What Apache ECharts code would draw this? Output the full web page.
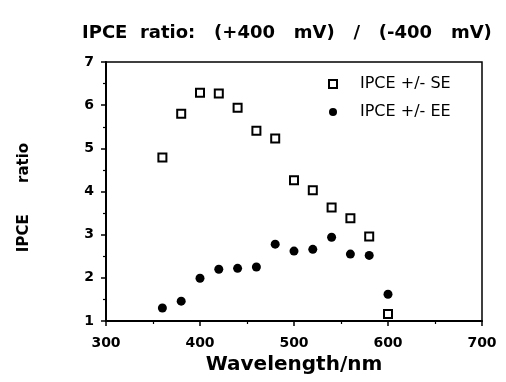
<!DOCTYPE html>
<html>
<head>
<meta charset="utf-8">
<script src="https://cdn.jsdelivr.net/npm/echarts@6/dist/echarts.min.js"></script>
<style>html,body{margin:0;padding:0;background:#fff;}#chart{width:506px;height:382px;}</style>
</head>
<body>
<div id="chart"></div>
<script>
var wavelengths = [360, 380, 400, 420, 440, 460, 480, 500, 520, 540, 560, 580, 600];
var ratioSE = [4.79, 5.80, 6.29, 6.27, 5.94, 5.41, 5.23, 4.26, 4.03, 3.63, 3.38, 2.96, 1.16];
var ratioEE = [1.30, 1.46, 1.99, 2.20, 2.22, 2.25, 2.78, 2.62, 2.66, 2.94, 2.55, 2.52, 1.62];
var seriesNames = ['IPCE +/- SE', 'IPCE +/- EE'];
var titleText = 'IPCE  ratio:   (+400   mV)   /   (-400   mV)';
var xName = 'Wavelength/nm';
var yName = 'IPCE      ratio';

function pairs(xs, ys) { return xs.map(function (x, i) { return [x, ys[i]]; }); }

var chart = echarts.init(document.getElementById('chart'), null, {renderer: 'canvas'});
var bold = {fontFamily: 'DejaVu Sans', fontWeight: 'bold', color: '#000'};
chart.setOption({
  animation: false,
  backgroundColor: '#fff',
  title: {
    text: titleText, left: 77, top: 19,
    textStyle: {fontFamily: 'DejaVu Sans', fontWeight: 'bold', fontSize: 18, color: '#000'}
  },
  grid: {left: 106, right: 24, top: 62, bottom: 61, show: true, borderColor: '#000', borderWidth: 1.5, backgroundColor: 'transparent'},
  legend: {
    orient: 'vertical', left: 323, top: 71, itemGap: 12, itemWidth: 8, itemHeight: 8,
    data: [{name: seriesNames[0], icon: 'rect'}, {name: seriesNames[1], icon: 'circle'}],
    textStyle: {fontFamily: 'DejaVu Sans', fontSize: 16, color: '#000', padding: [0, 0, 0, 18]}
  },
  xAxis: {
    type: 'value', min: 300, max: 700, interval: 100,
    name: xName, nameLocation: 'middle', nameGap: 33,
    nameTextStyle: Object.assign({fontSize: 20}, bold),
    axisLine: {show: true, lineStyle: {color: '#000', width: 2}},
    axisTick: {show: true, length: 5, lineStyle: {color: '#000', width: 1.5}},
    minorTick: {show: true, splitNumber: 2, length: 3, lineStyle: {color: '#000', width: 1.2}},
    splitLine: {show: false},
    axisLabel: Object.assign({fontSize: 14, margin: 15}, bold)
  },
  yAxis: {
    type: 'value', min: 1, max: 7, interval: 1,
    name: yName, nameLocation: 'middle', nameGap: 74, nameRotate: 90,
    nameTextStyle: Object.assign({fontSize: 15, padding: [0, 12, 0, 0]}, bold),
    axisLine: {show: true, lineStyle: {color: '#000', width: 2}},
    axisTick: {show: true, length: 5, lineStyle: {color: '#000', width: 1.5}},
    minorTick: {show: true, splitNumber: 2, length: 3, lineStyle: {color: '#000', width: 1.2}},
    splitLine: {show: false},
    axisLabel: Object.assign({fontSize: 14, margin: 12}, bold)
  },
  series: [
    {
      name: seriesNames[0], type: 'scatter', symbol: 'rect', symbolSize: 8,
      itemStyle: {color: '#fff', borderColor: '#000', borderWidth: 2, opacity: 1},
      data: pairs(wavelengths, ratioSE)
    },
    {
      name: seriesNames[1], type: 'scatter', symbol: 'circle', symbolSize: 9,
      itemStyle: {color: '#000', opacity: 1},
      data: pairs(wavelengths, ratioEE)
    }
  ]
});
</script>
</body>
</html>
